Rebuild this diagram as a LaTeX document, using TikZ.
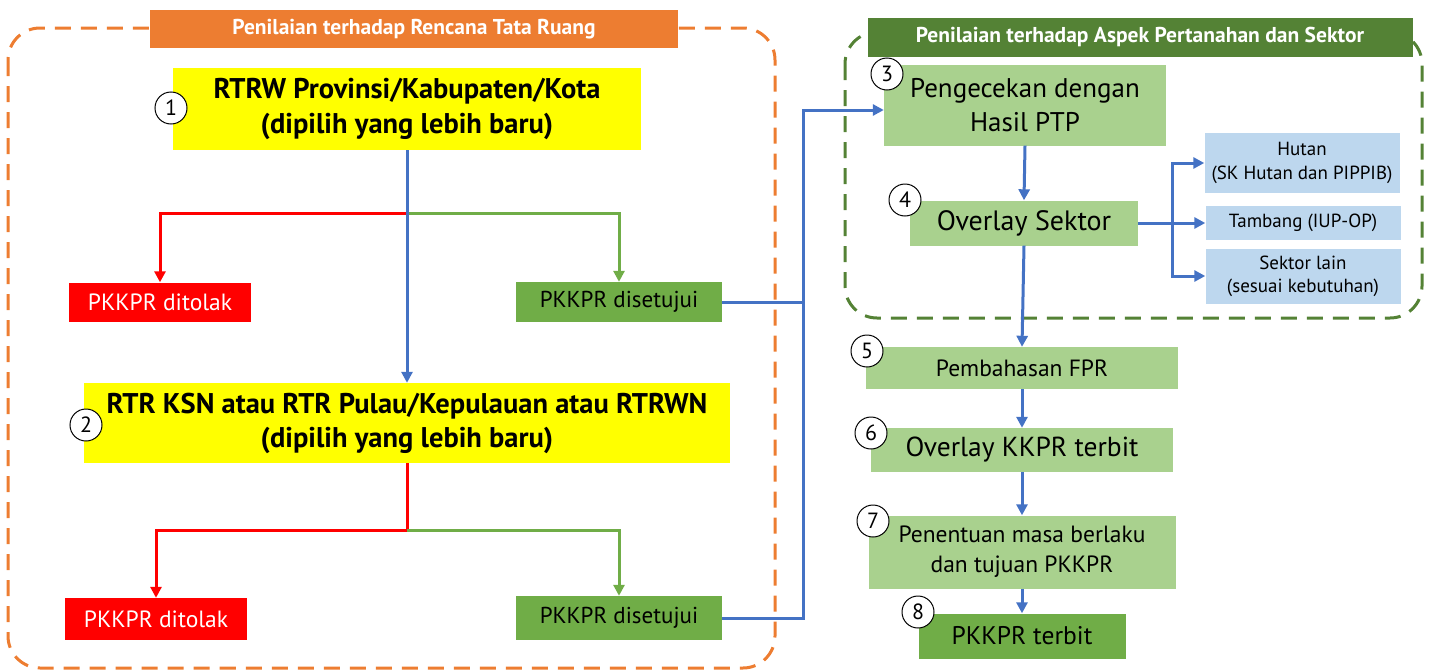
\documentclass[tikz,border=0pt]{standalone}
\usepackage{fontspec}
\setmainfont{PT Sans}
\usetikzlibrary{arrows.meta}
\definecolor{orangehd}{RGB}{237,125,49}
\definecolor{greenhd}{RGB}{84,130,53}
\definecolor{greenmid}{RGB}{112,173,71}
\definecolor{greenlt}{RGB}{169,209,142}
\definecolor{bluelt}{RGB}{189,215,238}
\definecolor{blueln}{RGB}{68,114,196}
\definecolor{yellowbx}{RGB}{255,255,0}
\definecolor{redbx}{RGB}{255,0,0}
\newcommand{\fs}[2]{\fontsize{#1}{#2}\selectfont}

\begin{document}
\begin{tikzpicture}[x=1pt, y=-1pt,
    box/.style={inner sep=0pt, align=center},
    numc/.style={circle, draw=black, fill=white, line width=1pt,
      minimum size=32, inner sep=0pt, font=\fs{22}{22}},
    tipb/.style={-{Triangle[length=11pt,width=11pt]}},
    link/.style={line width=3pt, blueln, tipb},
    nolink/.style={line width=3pt, redbx, tipb},
    oklink/.style={line width=3pt, greenmid, tipb},
    frame/.style={line width=3pt, dash pattern=on 16pt off 10pt, rounded corners=32pt}]
  \useasboundingbox (0,0) rectangle (1433,672);
  %% all coordinates in px of the 1433x672 sheet, y downwards

  % ---- FRAMES ----
  \draw[frame, orangehd] (8,28) rectangle (775,668);
  \draw[frame, greenhd]  (845,32) rectangle (1422,318);
  \node[box, fill=orangehd, minimum width=528, minimum height=38, text=white,
    font=\fs{21.5}{24}\bfseries] (hdtr) at (414,29) {Penilaian terhadap Rencana Tata Ruang};
  \node[box, fill=greenhd, minimum width=545, minimum height=39, text=white,
    font=\fs{21.5}{24}\bfseries] (hdsk) at (1140,37) {Penilaian terhadap Aspek Pertanahan dan Sektor};

  % ---- LEFT: TATA RUANG ----
  \node[box, fill=yellowbx, minimum width=468, minimum height=82,
    font=\fs{28.5}{35}\bfseries] (rtrw) at (407,109)
    {RTRW Provinsi/Kabupaten/Kota\\(dipilih yang lebih baru)};
  \node[box, fill=yellowbx, minimum width=646, minimum height=80,
    font=\fs{28.5}{34}\bfseries] (rtr) at (407,423)
    {RTR KSN atau RTR Pulau/Kepulauan atau RTRWN\\(dipilih yang lebih baru)};
  \node[box, fill=redbx, minimum width=182, minimum height=39, text=white,
    font=\fs{23.5}{26}] (tolaka) at (160,302) {PKKPR ditolak};
  \node[box, fill=greenmid, minimum width=206, minimum height=40,
    font=\fs{23}{26}] (setujua) at (619,302) {PKKPR disetujui};
  \node[box, fill=redbx, minimum width=182, minimum height=42, text=white,
    font=\fs{23.5}{26}] (tolakb) at (156,619) {PKKPR ditolak};
  \node[box, fill=greenmid, minimum width=206, minimum height=44,
    font=\fs{23}{26}] (setujub) at (619,618) {PKKPR disetujui};

  \coordinate (spa) at (407,213);
  \coordinate (spb) at (407,530);
  \draw[nolink] (spa) -| (tolaka.north);
  \draw[oklink] (spa) -| (setujua.north);
  \draw[link] (rtrw.south) -- (rtr.north);
  \draw[nolink, -] (rtr.south) -- (spb);
  \draw[nolink] (spb) -| (tolakb.north);
  \draw[oklink] (spb) -| (setujub.north);

  % ---- RIGHT: PERTANAHAN DAN SEKTOR ----
  \node[box, fill=greenlt, minimum width=282, minimum height=81,
    font=\fs{27}{34}] (ptp) at (1025,105) {Pengecekan dengan\\Hasil PTP};
  \node[box, fill=greenlt, minimum width=228, minimum height=45,
    font=\fs{28}{30}] (ovs) at (1024,223) {Overlay Sektor};
  \node[box, fill=bluelt, minimum width=195, minimum height=60,
    font=\fs{19}{24}] (hutan) at (1302,163) {Hutan\\(SK Hutan dan PIPPIB)};
  \node[box, fill=bluelt, minimum width=195, minimum height=34,
    font=\fs{19}{21}] (tambang) at (1303,223) {Tambang (IUP-OP)};
  \node[box, fill=bluelt, minimum width=195, minimum height=55,
    font=\fs{19}{23}] (lain) at (1303,276) {Sektor lain\\(sesuai kebutuhan)};
  \node[box, fill=greenlt, minimum width=312, minimum height=42,
    font=\fs{23.5}{26}] (fpr) at (1022,368) {Pembahasan FPR};
  \node[box, fill=greenlt, minimum width=302, minimum height=44,
    font=\fs{27.5}{30}] (kkpr) at (1022,450) {Overlay KKPR terbit};
  \node[box, fill=greenlt, minimum width=307, minimum height=73,
    font=\fs{23.5}{30}] (masa) at (1022,552) {Penentuan masa berlaku\\dan tujuan PKKPR};
  \node[box, fill=greenmid, minimum width=207, minimum height=45,
    font=\fs{25.5}{28}] (terbit) at (1022,636) {PKKPR terbit};

  \coordinate (bend) at (803,110);
  \coordinate (sk) at (1172,223);
  \draw[link, -] (setujua.east) -- (setujua.east -| bend);
  \draw[link] (setujub.east) -| (bend) -- (ptp.west |- bend);
  \draw[link] (ptp.south) -- (ovs.north);
  \draw[link, -] (ovs.east) -- (sk);
  \draw[link] (sk) |- (hutan.west);
  \draw[link] (sk) -- (tambang.west);
  \draw[link] (sk) |- (lain.west);
  \draw[link] (ovs.south) -- (fpr.north);
  \draw[link] (fpr.south) -- (kkpr.north);
  \draw[link] (kkpr.south) -- (masa.north);
  \draw[link] (masa.south) -- (terbit.north);

  % ---- STEP NUMBERS ----
  \foreach \n/\x/\y in {1/171/108, 2/86/425, 3/887/74, 4/905/200,
      5/867/351, 6/871/433, 7/873/521, 8/918/612} {
    \node[numc] (num\n) at (\x,\y) {\n};
  }
\end{tikzpicture}
\end{document}
